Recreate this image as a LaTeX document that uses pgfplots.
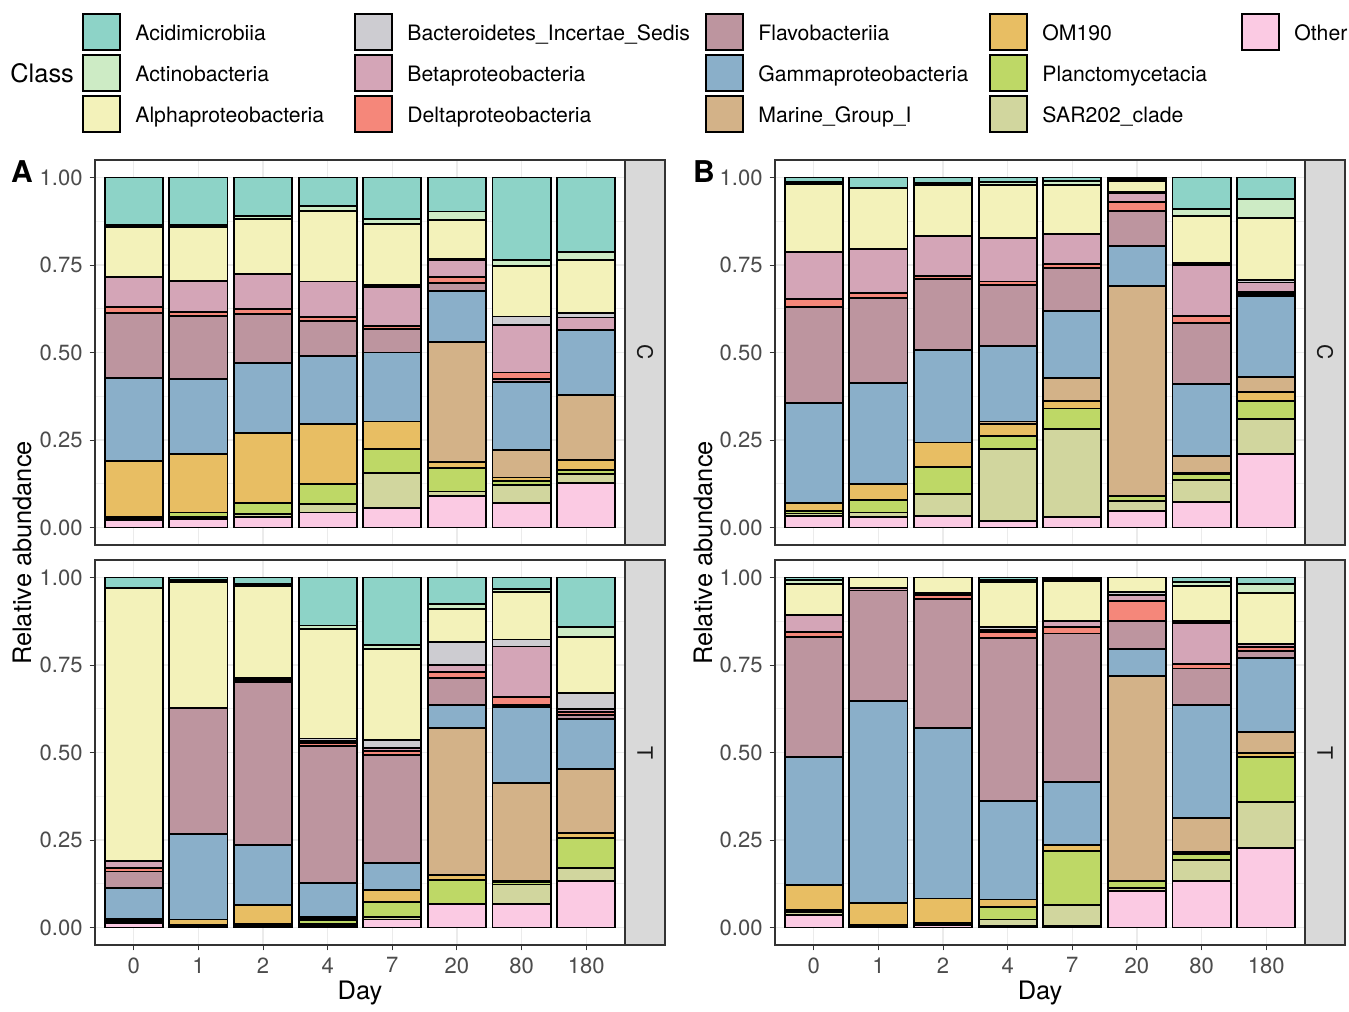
\documentclass[border=0pt]{standalone}
\usepackage{pgfplots}
\pgfplotsset{compat=1.18}
\usepackage{pgfplotstable}
\usepackage{fontspec}
\setmainfont{TeX Gyre Heros}

\definecolor{cAci}{HTML}{8DD3C7}
\definecolor{cAct}{HTML}{CDEBC5}
\definecolor{cAlp}{HTML}{F3F2BA}
\definecolor{cBIS}{HTML}{CDCCD1}
\definecolor{cBet}{HTML}{D4A5B7}
\definecolor{cDel}{HTML}{F5877A}
\definecolor{cFla}{HTML}{BD959F}
\definecolor{cGam}{HTML}{8AAFC9}
\definecolor{cMGI}{HTML}{D3B288}
\definecolor{cOM}{HTML}{E8BE63}
\definecolor{cPla}{HTML}{BED866}
\definecolor{cSAR}{HTML}{D1D69E}
\definecolor{cOth}{HTML}{FBCAE3}

% columns: x Other SAR202 Plancto OM190 MarineGroupI Gamma Flavo Delta Beta BIS Alpha Actino Acidi
\pgfplotstableread{
x Oth SAR Pla OM MGI Gam Fla Del Bet BIS Alp Act Aci
0 0.021 0.004 0.005 0.160 0 0.236 0.188 0.016 0.087 0 0.142 0.005 0.136
1 0.024 0.006 0.013 0.167 0 0.214 0.181 0.011 0.089 0 0.154 0.005 0.136
2 0.029 0.009 0.033 0.200 0 0.198 0.142 0.013 0.100 0 0.157 0.009 0.110
3 0.043 0.024 0.057 0.171 0 0.194 0.101 0.012 0.101 0 0.202 0.014 0.081
4 0.057 0.100 0.067 0.079 0 0.197 0.067 0.009 0.112 0.004 0.175 0.014 0.119
5 0.090 0.013 0.067 0.016 0.345 0.145 0.022 0.018 0.048 0.003 0.111 0.025 0.097
6 0.071 0.051 0.011 0.010 0.079 0.195 0.007 0.019 0.136 0.024 0.145 0.016 0.236
7 0.126 0.028 0.010 0.028 0.187 0.186 0 0 0.035 0.012 0.153 0.021 0.214
}\tabAC

\pgfplotstableread{
x Oth SAR Pla OM MGI Gam Fla Del Bet BIS Alp Act Aci
0 0.013 0.004 0.004 0.004 0 0.088 0.047 0.010 0.019 0 0.781 0 0.030
1 0.004 0.003 0 0.016 0 0.244 0.359 0 0 0 0.361 0.005 0.008
2 0.005 0.005 0 0.054 0 0.172 0.466 0.005 0.006 0 0.264 0.005 0.018
3 0.004 0.005 0.011 0.004 0.005 0.098 0.392 0.007 0.007 0.007 0.314 0.009 0.137
4 0.023 0.006 0.044 0.035 0 0.076 0.309 0.012 0.007 0.024 0.261 0.009 0.194
5 0.066 0 0.071 0.012 0.422 0.066 0.076 0.017 0.019 0.067 0.095 0.014 0.075
6 0.066 0.057 0.006 0.005 0.278 0.219 0.005 0.023 0.144 0.020 0.135 0.010 0.032
7 0.132 0.038 0.087 0.013 0.183 0.142 0.012 0.008 0.009 0.045 0.161 0.028 0.142
}\tabAT

\pgfplotstableread{
x Oth SAR Pla OM MGI Gam Fla Del Bet BIS Alp Act Aci
0 0.033 0.007 0.008 0.021 0 0.288 0.272 0.023 0.134 0 0.195 0.007 0.012
1 0.029 0.014 0.035 0.046 0 0.288 0.245 0.014 0.126 0 0.173 0 0.030
2 0.033 0.062 0.079 0.069 0 0.265 0.202 0.009 0.114 0 0.146 0.005 0.016
3 0.019 0.205 0.038 0.035 0.006 0.216 0.174 0.010 0.124 0 0.152 0.007 0.014
4 0.030 0.251 0.059 0.022 0.064 0.193 0.122 0.011 0.086 0 0.141 0.010 0.011
5 0.048 0.028 0.014 0 0.600 0.115 0.100 0.026 0.026 0.003 0.030 0.005 0.005
6 0.074 0.061 0.017 0.005 0.048 0.205 0.174 0.021 0.145 0.007 0.133 0.020 0.090
7 0.210 0.100 0.052 0.024 0.043 0.233 0.005 0.007 0.026 0.007 0.177 0.054 0.062
}\tabBC

\pgfplotstableread{
x Oth SAR Pla OM MGI Gam Fla Del Bet BIS Alp Act Aci
0 0.037 0.007 0.007 0.070 0 0.367 0.342 0.014 0.050 0 0.088 0.010 0.008
1 0.004 0.003 0 0.063 0 0.577 0.316 0 0.007 0 0.030 0 0
2 0.006 0.007 0 0.070 0 0.486 0.370 0.012 0.006 0 0.043 0 0
3 0.004 0.019 0.035 0.022 0 0.282 0.465 0.017 0.007 0.007 0.129 0.007 0.006
4 0.004 0.060 0.155 0.017 0 0.179 0.425 0.018 0.017 0 0.116 0.004 0.005
5 0.104 0.009 0.019 0 0.587 0.076 0.082 0.057 0.015 0.009 0.042 0 0
6 0.134 0.060 0.016 0.006 0.096 0.323 0.105 0.014 0.117 0.006 0.098 0.012 0.013
7 0.227 0.131 0.130 0.010 0.061 0.211 0.019 0.013 0.009 0 0.144 0.027 0.018
}\tabBT

\newcommand{\stackbars}[1]{%
  \addplot[fill=cOth] table[x=x,y=Oth]{#1};
  \addplot[fill=cSAR] table[x=x,y=SAR]{#1};
  \addplot[fill=cPla] table[x=x,y=Pla]{#1};
  \addplot[fill=cOM]  table[x=x,y=OM]{#1};
  \addplot[fill=cMGI] table[x=x,y=MGI]{#1};
  \addplot[fill=cGam] table[x=x,y=Gam]{#1};
  \addplot[fill=cFla] table[x=x,y=Fla]{#1};
  \addplot[fill=cDel] table[x=x,y=Del]{#1};
  \addplot[fill=cBet] table[x=x,y=Bet]{#1};
  \addplot[fill=cBIS] table[x=x,y=BIS]{#1};
  \addplot[fill=cAlp] table[x=x,y=Alp]{#1};
  \addplot[fill=cAct] table[x=x,y=Act]{#1};
  \addplot[fill=cAci] table[x=x,y=Aci]{#1};
}

\pgfplotsset{
  panel/.style={
    scale only axis, width=265pt, height=192.5pt, anchor=north west,
    ybar stacked, bar width=0.9,
    xmin=-0.6, xmax=7.6, ymin=-0.05, ymax=1.05,
    xtick={0,...,7},
    ytick={0,0.25,0.5,0.75,1},
    yticklabels={0.00,0.25,0.50,0.75,1.00},
    minor ytick={0.125,0.375,0.625,0.875},
    grid=both,
    major grid style={color=black!8, line width=0.6pt},
    minor grid style={color=black!6, line width=0.3pt},
    axis line style={color=black!80, line width=0.6pt},
    tick align=outside, major tick length=2.7pt, minor tick length=0pt,
    tick style={color=black!80, line width=0.5pt},
    tick pos=left,
    ticklabel style={font=\fontsize{11}{13}\selectfont, text=black!70},
    /pgf/number format/assume math mode=true,
    every axis plot/.append style={draw=black, line width=0.95pt},
  },
  toppanel/.style={panel, xticklabels={}, xtick style={draw=none}},
  botpanel/.style={panel, xticklabels={0,1,2,4,7,20,80,180}},
}

\begin{document}
\begin{tikzpicture}
\begin{scope}[x=0.5pt,y=-0.5pt]
  \useasboundingbox (0,0) rectangle (1349,1007);
\end{scope}

\begin{axis}[toppanel, at={(47.5pt,-80pt)}]
  \stackbars{\tabAC}
\end{axis}
\begin{axis}[botpanel, at={(47.5pt,-280pt)}]
  \stackbars{\tabAT}
\end{axis}
\begin{axis}[toppanel, at={(387.5pt,-80pt)}]
  \stackbars{\tabBC}
\end{axis}
\begin{axis}[botpanel, at={(387.5pt,-280pt)}]
  \stackbars{\tabBT}
\end{axis}

\begin{scope}[x=0.5pt,y=-0.5pt]
  % strips
  \foreach \sx in {625,1305} {
    \draw[fill=black!15, draw=black!80, line width=0.6pt] (\sx,160) rectangle (\sx+40,545);
    \draw[fill=black!15, draw=black!80, line width=0.6pt] (\sx,560) rectangle (\sx+40,945);
    \node[rotate=-90, font=\fontsize{10.6}{12}\selectfont, text=black!90] at (\sx+20,352.5) {C};
    \node[rotate=-90, font=\fontsize{10.6}{12}\selectfont, text=black!90] at (\sx+20,752.5) {T};
  }
  % axis titles
  \node[rotate=90, font=\fontsize{12.7}{15}\selectfont] at (22,553) {Relative abundance};
  \node[rotate=90, font=\fontsize{12.7}{15}\selectfont] at (703,553) {Relative abundance};
  \node[font=\fontsize{12.7}{15}\selectfont] at (360,993) {Day};
  \node[font=\fontsize{12.7}{15}\selectfont] at (1040,993) {Day};
  % panel letters
  \node[font=\bfseries\fontsize{15}{18}\selectfont] at (22,172) {A};
  \node[font=\bfseries\fontsize{15}{18}\selectfont] at (704,172) {B};
  % legend
  \node[anchor=base west, inner sep=0pt, font=\fontsize{12.7}{15}\selectfont] at (10,82) {Class};
  \foreach \c/\t/\xk/\r in {
      cAci/Acidimicrobiia/83/0, cAct/Actinobacteria/83/1, cAlp/Alphaproteobacteria/83/2,
      cBIS/Bacteroidetes\_Incertae\_Sedis/355/0, cBet/Betaproteobacteria/355/1, cDel/Deltaproteobacteria/355/2,
      cFla/Flavobacteriia/706/0, cGam/Gammaproteobacteria/706/1, cMGI/Marine\_Group\_I/706/2,
      cOM/OM190/990/0, cPla/Planctomycetacia/990/1, cSAR/SAR202\_clade/990/2,
      cOth/Other/1242/0} {
    \draw[fill=\c, draw=black, line width=0.8pt] (\xk,{14+41*\r}) rectangle ++(37,36);
    \node[anchor=base west, inner sep=0pt, font=\fontsize{10.6}{12}\selectfont] at (\xk+52,{40+41*\r}) {\t};
  }
\end{scope}
\end{tikzpicture}
\end{document}
